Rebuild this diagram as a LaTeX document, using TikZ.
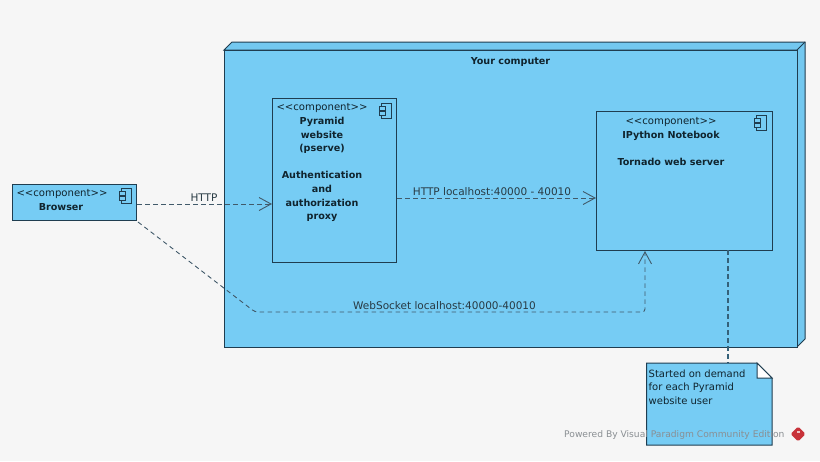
\documentclass[tikz,border=0pt]{standalone}
\usepackage{fontspec}
\setmainfont{DejaVu Sans}
\usetikzlibrary{arrows.meta,calc}
\definecolor{bg}{HTML}{F6F6F6}
\definecolor{fillb}{HTML}{76CCF4}
\definecolor{sidec}{HTML}{5FB0D8}
\definecolor{linec}{HTML}{1F3D50}
\definecolor{txt}{HTML}{10242E}
\definecolor{wm}{HTML}{8A8F93}
\definecolor{logored}{HTML}{C8323A}
\tikzset{
 x=1pt,y=-1pt,
 box/.style={draw=linec,fill=fillb,line width=1pt,inner sep=0pt,anchor=north west},
 lbl/.style={text=txt,font=\fontsize{10.1}{13.2}\selectfont,align=center,inner sep=0pt},
 blbl/.style={text=txt,font=\fontsize{9.6}{13.6}\selectfont\bfseries,align=center,inner sep=0pt},
 edgelbl/.style={text=txt!90!white,font=\fontsize{10.5}{12}\selectfont,inner sep=0pt},
 conn/.style={draw=linec!85!white,line width=0.9pt,dash pattern=on 4.5pt off 3.5pt},
 head/.style={-{Straight Barb[length=12pt,width=13pt,line width=0.9pt]}},
}
\newcommand{\compicon}[2]{%
 \draw[linec,line width=0.9pt,fill=fillb] (#1+2,#2) rectangle (#1+12,#2+15);
 \draw[linec,line width=0.9pt,fill=fillb] (#1,#2+3.5) rectangle (#1+6,#2+7);
 \draw[linec,line width=0.9pt,fill=fillb] (#1,#2+8.5) rectangle (#1+6,#2+12);
}
\newcommand{\stereo}{<{}<component>{}>}
\begin{document}
\begin{tikzpicture}
\useasboundingbox[fill=bg] (0,0) rectangle (820,461);
% container
\draw[linec,line width=1pt,fill=fillb!85!sidec] (224,50) -- (232,42) -- (805,42) -- (805,339) -- (797,347) -- (797,50) -- cycle;
\draw[linec,line width=1pt] (797,50) -- (805,42);
\node[box,minimum width=573pt,minimum height=297pt] (computer) at (224,50) {};
\node[blbl] (computerlbl) at (510.5,62) {Your computer};
% components
\node[box,minimum width=124pt,minimum height=36pt] (browser) at (12,184) {};
\node[lbl] (browserst) at (62,194) {\stereo};
\node[blbl] (browsert) at (61,207.5) {Browser};
\compicon{119}{188}
\node[box,minimum width=124pt,minimum height=164pt] (pyramid) at (272,98) {};
\node[lbl] (pyramidst) at (322,108) {\stereo};
\node[blbl,anchor=north] (pyramidt) at (322,117) {Pyramid\\website\\(pserve)\\[13.6pt]Authentication\\and\\authorization\\proxy};
\compicon{379}{103}
\node[box,minimum width=176pt,minimum height=139pt] (ipython) at (596,111) {};
\node[lbl] (ipythonst) at (671,122) {\stereo};
\node[blbl,anchor=north] (ipythont) at (671,131) {IPython Notebook\\[13.6pt]Tornado web server};
\compicon{754}{115}
% connectors
\coordinate (n1) at (255,312);
\coordinate (n2) at (645,312);
\coordinate (b1) at (browser.east |- 0,204);
\coordinate (p1) at (pyramid.west |- 0,204);
\coordinate (p2) at (pyramid.east |- 0,198);
\coordinate (i1) at (ipython.west |- 0,198);
\coordinate (b2) at (138,222);
\coordinate (i2) at (645,0 |- ipython.south);
\draw[conn,head] (b1) -- (p1);
\draw[conn,head] (p2) -- (i1);
\draw[conn,head,rounded corners=3pt] (b2) -- (n1) -- (n2) -- (i2);
\node[edgelbl] (http) at (204,197.5) {HTTP};
\node[edgelbl] (httpl) at (492,191.5) {HTTP localhost:40000 - 40010};
\node[edgelbl] (wsl) at (444.5,305.5) {WebSocket localhost:40000-40010};
% note
\coordinate (ntop) at (728,363);
\coordinate (itop) at (728,250);
\draw[conn,line width=1.1pt,draw=linec!75!fillb] (itop) -- (ntop);
\draw[linec,line width=1pt,fill=fillb] (646.5,363) -- (757,363) -- (772,378) -- (772,445) -- (646.5,445) -- cycle;
\draw[linec,line width=1pt,fill=white] (757,363) -- (772,378) -- (757,378) -- cycle;
\node[text=txt,font=\fontsize{10}{13.5}\selectfont,align=left,anchor=north west,inner sep=0pt] (note) at (648.5,369.5) {Started on demand\\for each Pyramid\\website user};
% watermark
\node[text=wm,font=\fontsize{9.15}{10}\selectfont,anchor=west,inner sep=0pt] (wmark) at (564,434.5) {Powered By Visual Paradigm Community Edition};
\fill[logored,rounded corners=1.5pt] (798,426.5) -- (805.5,434) -- (798,441.5) -- (790.5,434) -- cycle;
\fill[white!70!logored] (797,431) rectangle (800,433);
\end{tikzpicture}
\end{document}
